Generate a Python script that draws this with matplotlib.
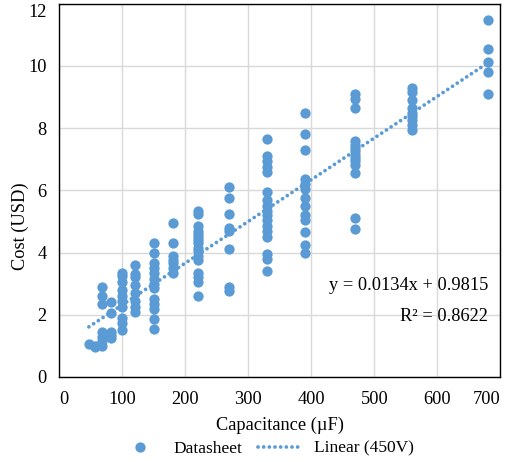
import matplotlib
matplotlib.use("Agg")
import matplotlib.pyplot as plt
import numpy as np

# ── data (capacitance in µF, cost in USD) ────────────────────────────────────
CAP_VALUES = [47, 56, 68, 82, 100, 120, 150, 180, 220, 270, 330, 390, 470, 560, 680]
COST_BY_CAP = {
    47: [1.05],
    56: [1.0, 0.96],
    68: [2.9, 2.6, 2.35, 1.45, 1.3, 1.15, 1.0],
    82: [2.4, 2.05, 1.45, 1.35, 1.25],
    100: [3.35, 3.25, 3.05, 2.8, 2.6, 2.45, 2.25, 1.9, 1.75, 1.5],
    120: [3.6, 3.3, 3.2, 2.95, 2.7, 2.45, 2.25, 2.1],
    150: [4.3, 4.0, 3.65, 3.5, 3.35, 3.15, 3.0, 2.85, 2.5, 2.35, 2.2, 1.85, 1.55],
    180: [4.95, 4.3, 3.9, 3.75, 3.65, 3.5, 3.35],
    220: [5.35, 5.25, 4.85, 4.7, 4.6, 4.5, 4.4, 4.3, 4.15, 4.05, 3.9, 3.75,
          3.35, 3.2, 3.05, 2.6],
    270: [6.1, 5.75, 5.25, 4.8, 4.7, 4.1, 2.9, 2.75],
    330: [7.65, 7.1, 6.95, 6.75, 6.6, 5.95, 5.7, 5.5, 5.35, 5.2, 5.05, 4.85,
          4.7, 4.5, 3.95, 3.8, 3.4],
    390: [8.5, 7.8, 7.3, 6.35, 6.2, 6.05, 5.75, 5.5, 5.2, 5.05, 4.65, 4.25, 4.0],
    470: [9.1, 8.95, 8.65, 7.6, 7.45, 7.35, 7.25, 7.15, 7.05, 6.95, 6.8, 6.55,
          5.1, 4.75],
    560: [9.28, 9.15, 8.9, 8.65, 8.5, 8.4, 8.25, 8.1, 7.95],
    680: [11.47, 10.54, 10.11, 9.81, 9.11],
}

# trend line as printed on the chart
FIT_SLOPE = 0.0134
FIT_INTERCEPT = 0.9815
FIT_R2 = 0.8622

X_TICKS = [0, 100, 200, 300, 400, 500, 600, 700]
Y_TICKS = [0, 2, 4, 6, 8, 10, 12]

BLUE = "#5B9BD5"
GRID = "#D9D9D9"

plt.rcParams["font.family"] = ["Liberation Serif", "DejaVu Serif"]
FS = 13.2
FS_LEG = 12.5

cap = np.concatenate([[c] * len(COST_BY_CAP[c]) for c in CAP_VALUES]).astype(float)
cost = np.concatenate([COST_BY_CAP[c] for c in CAP_VALUES])

fig = plt.figure(figsize=(5.11, 4.62), dpi=100)
ax = fig.add_axes([0.116, 0.184, 0.863, 0.808])

ax.grid(True, color=GRID, linewidth=1.0, zorder=0)
ax.set_axisbelow(True)

ax.plot(cap, cost, linestyle="none", marker="o", markersize=7.4,
        color=BLUE, markeredgewidth=0, zorder=3, label="Datasheet")

fit_x = np.array([cap.min(), cap.max()])
fit_y = FIT_SLOPE * fit_x + FIT_INTERCEPT
ax.plot(fit_x, fit_y, color=BLUE, linewidth=2.7, linestyle=(0, (0.01, 1.5)),
        dash_capstyle="round", zorder=4, label="Linear (450V)")

ax.set_xlim(0, 700)
ax.set_ylim(0, 12)
ax.set_xticks(X_TICKS)
ax.set_yticks(Y_TICKS)
ax.tick_params(axis="both", length=0, labelsize=FS)
ax.tick_params(axis="x", pad=10)
ax.tick_params(axis="y", pad=9)
for side in ax.spines.values():
    side.set_color("black")
    side.set_linewidth(1.0)

# Excel pulls the edge labels inside the chart area
xl = ax.get_xticklabels()
xl[0].set_horizontalalignment("left")
xl[-1].set_horizontalalignment("right")
yl = ax.get_yticklabels()
yl[-1].set_verticalalignment("top")

ax.set_xlabel("Capacitance (µF)", fontsize=FS, labelpad=6)
ax.set_ylabel("Cost (USD)", fontsize=FS)
ax.yaxis.set_label_coords(-0.068, 0.405)

ax.text(0.972, 0.244, f"y = {FIT_SLOPE}x + {FIT_INTERCEPT}", transform=ax.transAxes,
        ha="right", va="center", fontsize=FS)
ax.text(0.972, 0.163, f"R² = {FIT_R2}", transform=ax.transAxes,
        ha="right", va="center", fontsize=FS)

ax.legend(loc="center", bbox_to_anchor=(0.468, -0.192), ncol=2, frameon=False,
          fontsize=FS_LEG, handlelength=2.6, handletextpad=0.6, columnspacing=0.9,
          borderaxespad=0)

fig.savefig("out.png", dpi=100, facecolor="white")
